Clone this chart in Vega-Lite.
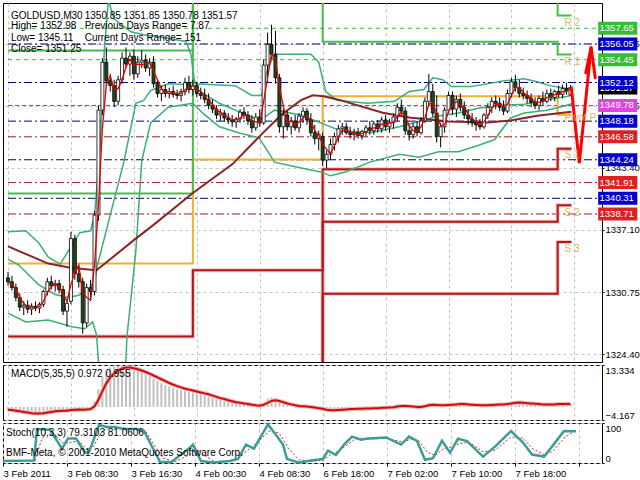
{
"$schema": "https://vega.github.io/schema/vega-lite/v6.json",
"background": "white",
"padding": {"left": -3, "top": 2, "right": 0, "bottom": 0},
"spacing": 3,
"bounds": "flush",
"config": {"view": {"stroke": "black", "strokeWidth": 1}, "font": "Liberation Sans", "text": {"font": "Liberation Sans"}},
"datasets": {
"bars": [
{"i":0,"o":1332.2,"h":1332.8,"l":1331.4,"c":1331.8,"m":1331.8,"mh":-1.2,"ms":-0.9},
{"i":1,"o":1331.8,"h":1332.4,"l":1330.9,"c":1331.2,"m":1331.5,"mh":-1.3,"ms":-1.0},
{"i":2,"o":1331.2,"h":1331.6,"l":1329.8,"c":1330.2,"m":1331.1,"mh":-1.5,"ms":-1.2},
{"i":3,"o":1330.2,"h":1330.6,"l":1328.8,"c":1329.2,"m":1330.2,"mh":-1.7,"ms":-1.4},
{"i":4,"o":1329.2,"h":1329.8,"l":1328.4,"c":1329.4,"m":1329.6,"mh":-1.8,"ms":-1.6},
{"i":5,"o":1329.4,"h":1329.9,"l":1328.6,"c":1329.0,"m":1329.2,"mh":-1.9,"ms":-1.8},
{"i":6,"o":1329.0,"h":1329.6,"l":1328.4,"c":1329.3,"m":1329.2,"mh":-1.9,"ms":-2.0},
{"i":7,"o":1329.3,"h":1329.8,"l":1328.8,"c":1329.1,"m":1329.1,"mh":-1.8,"ms":-2.1},
{"i":8,"o":1329.1,"h":1329.7,"l":1328.6,"c":1329.5,"m":1329.3,"mh":-1.7,"ms":-2.1},
{"i":9,"o":1329.5,"h":1331.0,"l":1329.2,"c":1330.8,"m":1329.8,"mh":-1.4,"ms":-2.0},
{"i":10,"o":1330.8,"h":1332.2,"l":1330.4,"c":1331.8,"m":1330.7,"mh":-1.1,"ms":-1.8},
{"i":11,"o":1331.8,"h":1332.4,"l":1331.0,"c":1331.4,"m":1331.3,"mh":-1.0,"ms":-1.6},
{"i":12,"o":1331.4,"h":1332.0,"l":1330.8,"c":1331.6,"m":1331.6,"mh":-0.9,"ms":-1.4},
{"i":13,"o":1331.6,"h":1332.0,"l":1330.6,"c":1331.0,"m":1331.3,"mh":-0.9,"ms":-1.3},
{"i":14,"o":1331.0,"h":1331.4,"l":1328.4,"c":1328.8,"m":1330.5,"mh":-1.1,"ms":-1.2},
{"i":15,"o":1328.8,"h":1330.0,"l":1327.2,"c":1329.6,"m":1329.8,"mh":-1.2,"ms":-1.2},
{"i":16,"o":1329.8,"h":1336.9,"l":1329.5,"c":1336.2,"m":1331.5,"mh":-0.6,"ms":-1.0},
{"i":17,"o":1336.2,"h":1336.6,"l":1332.0,"c":1332.6,"m":1332.8,"mh":-0.6,"ms":-0.9},
{"i":18,"o":1332.6,"h":1333.4,"l":1331.2,"c":1331.8,"m":1333.5,"mh":-0.7,"ms":-0.8},
{"i":19,"o":1331.8,"h":1332.2,"l":1326.5,"c":1327.6,"m":1330.7,"mh":-1.1,"ms":-0.9},
{"i":20,"o":1327.6,"h":1331.6,"l":1327.2,"c":1331.2,"m":1330.2,"mh":-0.6,"ms":-0.8},
{"i":21,"o":1331.2,"h":1332.0,"l":1330.0,"c":1330.8,"m":1329.9,"mh":-0.6,"ms":-0.7},
{"i":22,"o":1330.8,"h":1339.0,"l":1330.4,"c":1338.6,"m":1333.5,"mh":1.8,"ms":0.2},
{"i":23,"o":1338.6,"h":1349.8,"l":1338.0,"c":1349.3,"m":1339.6,"mh":5.6,"ms":2.3},
{"i":24,"o":1349.3,"h":1354.6,"l":1348.8,"c":1354.2,"m":1347.4,"mh":9.5,"ms":5.0},
{"i":25,"o":1354.2,"h":1355.7,"l":1351.8,"c":1352.3,"m":1351.9,"mh":11.5,"ms":7.5},
{"i":26,"o":1352.3,"h":1353.0,"l":1351.2,"c":1351.8,"m":1352.8,"mh":12.6,"ms":9.4},
{"i":27,"o":1351.8,"h":1352.4,"l":1349.6,"c":1350.2,"m":1351.4,"mh":12.8,"ms":10.7},
{"i":28,"o":1350.2,"h":1352.8,"l":1349.8,"c":1352.4,"m":1351.5,"mh":13.1,"ms":11.6},
{"i":29,"o":1352.4,"h":1355.2,"l":1352.0,"c":1354.6,"m":1352.4,"mh":13.3,"ms":12.2},
{"i":30,"o":1354.6,"h":1355.7,"l":1353.6,"c":1354.0,"m":1353.7,"mh":13.2,"ms":12.5},
{"i":31,"o":1354.0,"h":1355.2,"l":1352.8,"c":1354.8,"m":1354.5,"mh":12.8,"ms":12.5},
{"i":32,"o":1354.8,"h":1355.5,"l":1352.4,"c":1353.0,"m":1353.9,"mh":12.2,"ms":12.3},
{"i":33,"o":1353.0,"h":1354.8,"l":1352.6,"c":1354.2,"m":1354.0,"mh":11.6,"ms":12.0},
{"i":34,"o":1354.2,"h":1355.4,"l":1353.6,"c":1354.4,"m":1353.9,"mh":11.0,"ms":11.6},
{"i":35,"o":1354.4,"h":1355.0,"l":1353.2,"c":1353.6,"m":1354.1,"mh":10.3,"ms":11.1},
{"i":36,"o":1353.6,"h":1354.6,"l":1352.8,"c":1354.2,"m":1354.1,"mh":9.7,"ms":10.6},
{"i":37,"o":1354.2,"h":1354.8,"l":1351.6,"c":1352.0,"m":1353.3,"mh":8.9,"ms":10.0},
{"i":38,"o":1352.0,"h":1352.4,"l":1350.6,"c":1351.0,"m":1352.4,"mh":8.2,"ms":9.4},
{"i":39,"o":1351.0,"h":1351.8,"l":1350.2,"c":1351.4,"m":1351.5,"mh":7.6,"ms":8.8},
{"i":40,"o":1351.4,"h":1351.9,"l":1350.6,"c":1351.0,"m":1351.1,"mh":7.0,"ms":8.2},
{"i":41,"o":1351.0,"h":1351.6,"l":1350.5,"c":1351.2,"m":1351.2,"mh":6.5,"ms":7.6},
{"i":42,"o":1351.2,"h":1351.8,"l":1350.6,"c":1350.9,"m":1351.0,"mh":6.0,"ms":7.1},
{"i":43,"o":1350.9,"h":1351.4,"l":1350.4,"c":1350.8,"m":1351.0,"mh":5.6,"ms":6.6},
{"i":44,"o":1350.8,"h":1351.5,"l":1350.2,"c":1351.2,"m":1351.0,"mh":5.3,"ms":6.2},
{"i":45,"o":1351.2,"h":1352.6,"l":1350.8,"c":1352.1,"m":1351.4,"mh":5.1,"ms":5.8},
{"i":46,"o":1352.1,"h":1352.8,"l":1351.0,"c":1351.4,"m":1351.6,"mh":4.8,"ms":5.5},
{"i":47,"o":1351.4,"h":1352.4,"l":1350.8,"c":1351.8,"m":1351.8,"mh":4.6,"ms":5.2},
{"i":48,"o":1351.8,"h":1352.2,"l":1350.6,"c":1351.0,"m":1351.4,"mh":4.3,"ms":4.9},
{"i":49,"o":1351.0,"h":1351.6,"l":1350.4,"c":1350.8,"m":1351.2,"mh":4.0,"ms":4.6},
{"i":50,"o":1350.8,"h":1351.5,"l":1350.0,"c":1350.4,"m":1350.7,"mh":3.7,"ms":4.3},
{"i":51,"o":1350.4,"h":1351.0,"l":1349.4,"c":1349.8,"m":1350.3,"mh":3.3,"ms":4.0},
{"i":52,"o":1349.8,"h":1350.4,"l":1349.0,"c":1349.4,"m":1349.9,"mh":2.9,"ms":3.6},
{"i":53,"o":1349.4,"h":1349.8,"l":1348.4,"c":1348.8,"m":1349.3,"mh":2.5,"ms":3.2},
{"i":54,"o":1348.8,"h":1349.4,"l":1348.2,"c":1349.0,"m":1349.1,"mh":2.2,"ms":2.8},
{"i":55,"o":1349.0,"h":1349.3,"l":1348.1,"c":1348.5,"m":1348.8,"mh":1.9,"ms":2.5},
{"i":56,"o":1348.5,"h":1349.0,"l":1347.9,"c":1348.3,"m":1348.6,"mh":1.6,"ms":2.1},
{"i":57,"o":1348.3,"h":1348.8,"l":1347.6,"c":1348.1,"m":1348.3,"mh":1.3,"ms":1.8},
{"i":58,"o":1348.1,"h":1348.6,"l":1347.5,"c":1348.4,"m":1348.3,"mh":1.1,"ms":1.5},
{"i":59,"o":1348.4,"h":1349.4,"l":1348.0,"c":1349.1,"m":1348.5,"mh":1.0,"ms":1.3},
{"i":60,"o":1349.1,"h":1349.6,"l":1348.4,"c":1348.8,"m":1348.8,"mh":0.9,"ms":1.1},
{"i":61,"o":1348.8,"h":1349.2,"l":1347.8,"c":1348.2,"m":1348.7,"mh":0.7,"ms":0.9},
{"i":62,"o":1348.2,"h":1348.8,"l":1347.0,"c":1347.5,"m":1348.2,"mh":0.4,"ms":0.7},
{"i":63,"o":1347.5,"h":1349.0,"l":1347.2,"c":1348.6,"m":1348.1,"mh":0.3,"ms":0.5},
{"i":64,"o":1348.6,"h":1349.4,"l":1347.6,"c":1348.0,"m":1348.0,"mh":0.2,"ms":0.4},
{"i":65,"o":1348.0,"h":1354.5,"l":1347.8,"c":1353.9,"m":1350.2,"mh":1.2,"ms":0.7},
{"i":66,"o":1353.9,"h":1357.2,"l":1352.2,"c":1356.0,"m":1352.6,"mh":2.6,"ms":1.3},
{"i":67,"o":1356.0,"h":1358.0,"l":1354.5,"c":1355.0,"m":1355.0,"mh":3.0,"ms":1.9},
{"i":68,"o":1355.0,"h":1357.4,"l":1352.0,"c":1352.6,"m":1354.5,"mh":2.6,"ms":2.1},
{"i":69,"o":1352.6,"h":1353.0,"l":1347.0,"c":1347.6,"m":1351.7,"mh":1.4,"ms":1.9},
{"i":70,"o":1347.6,"h":1349.4,"l":1346.4,"c":1348.8,"m":1349.7,"mh":0.8,"ms":1.5},
{"i":71,"o":1348.8,"h":1349.2,"l":1347.2,"c":1347.6,"m":1348.0,"mh":0.4,"ms":1.1},
{"i":72,"o":1347.6,"h":1348.6,"l":1346.8,"c":1348.2,"m":1348.2,"mh":0.2,"ms":0.8},
{"i":73,"o":1348.2,"h":1348.8,"l":1347.2,"c":1347.5,"m":1347.8,"mh":-0.1,"ms":0.5},
{"i":74,"o":1347.5,"h":1349.0,"l":1347.0,"c":1348.7,"m":1348.1,"mh":0.1,"ms":0.3},
{"i":75,"o":1348.7,"h":1349.6,"l":1348.0,"c":1349.2,"m":1348.5,"mh":0.2,"ms":0.2},
{"i":76,"o":1349.2,"h":1349.5,"l":1347.8,"c":1348.3,"m":1348.7,"mh":0.0,"ms":0.1},
{"i":77,"o":1348.3,"h":1349.0,"l":1346.6,"c":1347.0,"m":1348.2,"mh":-0.3,"ms":0.0},
{"i":78,"o":1347.0,"h":1347.8,"l":1345.8,"c":1346.4,"m":1347.2,"mh":-0.6,"ms":-0.2},
{"i":79,"o":1346.4,"h":1347.2,"l":1345.2,"c":1346.8,"m":1346.7,"mh":-0.6,"ms":-0.4},
{"i":80,"o":1346.6,"h":1347.0,"l":1343.6,"c":1344.2,"m":1345.8,"mh":-1.1,"ms":-0.6},
{"i":81,"o":1344.2,"h":1345.2,"l":1343.4,"c":1344.8,"m":1345.3,"mh":-1.4,"ms":-0.9},
{"i":82,"o":1344.8,"h":1346.4,"l":1344.2,"c":1345.8,"m":1344.9,"mh":-1.3,"ms":-1.1},
{"i":83,"o":1345.8,"h":1347.0,"l":1345.2,"c":1346.6,"m":1345.7,"mh":-1.0,"ms":-1.1},
{"i":84,"o":1346.6,"h":1347.8,"l":1346.0,"c":1347.4,"m":1346.6,"mh":-0.7,"ms":-1.0},
{"i":85,"o":1347.4,"h":1348.0,"l":1346.8,"c":1347.6,"m":1347.2,"mh":-0.5,"ms":-0.9},
{"i":86,"o":1347.6,"h":1348.0,"l":1346.8,"c":1347.0,"m":1347.3,"mh":-0.5,"ms":-0.8},
{"i":87,"o":1347.0,"h":1347.6,"l":1346.4,"c":1346.8,"m":1347.1,"mh":-0.6,"ms":-0.7},
{"i":88,"o":1346.8,"h":1347.4,"l":1346.2,"c":1347.0,"m":1346.9,"mh":-0.6,"ms":-0.7},
{"i":89,"o":1347.0,"h":1347.5,"l":1346.4,"c":1346.7,"m":1346.8,"mh":-0.6,"ms":-0.6},
{"i":90,"o":1346.7,"h":1347.3,"l":1346.3,"c":1347.1,"m":1346.9,"mh":-0.5,"ms":-0.6},
{"i":91,"o":1347.1,"h":1347.8,"l":1346.6,"c":1347.5,"m":1347.1,"mh":-0.4,"ms":-0.5},
{"i":92,"o":1347.5,"h":1348.2,"l":1346.8,"c":1347.2,"m":1347.3,"mh":-0.4,"ms":-0.5},
{"i":93,"o":1347.2,"h":1348.2,"l":1346.8,"c":1347.9,"m":1347.5,"mh":-0.3,"ms":-0.4},
{"i":94,"o":1347.9,"h":1348.3,"l":1347.0,"c":1347.4,"m":1347.5,"mh":-0.3,"ms":-0.4},
{"i":95,"o":1347.4,"h":1348.6,"l":1347.0,"c":1348.3,"m":1347.9,"mh":-0.2,"ms":-0.3},
{"i":96,"o":1348.3,"h":1348.8,"l":1347.2,"c":1347.6,"m":1347.8,"mh":-0.2,"ms":-0.3},
{"i":97,"o":1347.6,"h":1348.4,"l":1347.0,"c":1348.0,"m":1348.0,"mh":-0.1,"ms":-0.2},
{"i":98,"o":1348.0,"h":1349.0,"l":1347.4,"c":1348.6,"m":1348.1,"mh":0.1,"ms":-0.1},
{"i":99,"o":1348.6,"h":1350.0,"l":1348.2,"c":1349.6,"m":1348.7,"mh":0.5,"ms":0.1},
{"i":100,"o":1349.6,"h":1350.4,"l":1348.8,"c":1349.2,"m":1349.1,"mh":0.6,"ms":0.3},
{"i":101,"o":1349.2,"h":1349.6,"l":1346.8,"c":1347.2,"m":1348.7,"mh":0.2,"ms":0.3},
{"i":102,"o":1347.2,"h":1347.8,"l":1346.2,"c":1346.8,"m":1347.7,"mh":-0.1,"ms":0.2},
{"i":103,"o":1346.8,"h":1348.0,"l":1346.4,"c":1347.6,"m":1347.2,"mh":-0.1,"ms":0.1},
{"i":104,"o":1347.6,"h":1348.2,"l":1346.6,"c":1347.0,"m":1347.1,"mh":-0.2,"ms":0.0},
{"i":105,"o":1347.0,"h":1348.6,"l":1346.8,"c":1348.2,"m":1347.6,"mh":0.1,"ms":0.0},
{"i":106,"o":1348.2,"h":1350.6,"l":1348.0,"c":1350.2,"m":1348.5,"mh":0.6,"ms":0.2},
{"i":107,"o":1350.2,"h":1353.0,"l":1349.8,"c":1351.2,"m":1349.9,"mh":1.2,"ms":0.5},
{"i":108,"o":1351.2,"h":1352.0,"l":1348.6,"c":1349.0,"m":1350.1,"mh":1.0,"ms":0.7},
{"i":109,"o":1349.0,"h":1350.8,"l":1346.0,"c":1346.6,"m":1348.9,"mh":0.3,"ms":0.6},
{"i":110,"o":1346.6,"h":1348.0,"l":1345.5,"c":1347.6,"m":1347.7,"mh":0.2,"ms":0.5},
{"i":111,"o":1347.6,"h":1349.6,"l":1347.0,"c":1349.3,"m":1347.8,"mh":0.5,"ms":0.5},
{"i":112,"o":1349.3,"h":1351.2,"l":1349.0,"c":1350.8,"m":1349.2,"mh":0.9,"ms":0.6},
{"i":113,"o":1350.8,"h":1351.2,"l":1348.8,"c":1349.4,"m":1349.8,"mh":0.9,"ms":0.7},
{"i":114,"o":1349.4,"h":1350.8,"l":1348.6,"c":1350.4,"m":1350.2,"mh":1.0,"ms":0.8},
{"i":115,"o":1350.4,"h":1351.0,"l":1349.2,"c":1349.6,"m":1349.8,"mh":1.0,"ms":0.9},
{"i":116,"o":1349.6,"h":1350.2,"l":1348.4,"c":1348.8,"m":1349.6,"mh":0.8,"ms":0.9},
{"i":117,"o":1348.8,"h":1349.4,"l":1347.8,"c":1348.4,"m":1348.9,"mh":0.6,"ms":0.8},
{"i":118,"o":1348.4,"h":1349.0,"l":1347.6,"c":1348.0,"m":1348.4,"mh":0.4,"ms":0.7},
{"i":119,"o":1348.0,"h":1348.6,"l":1347.2,"c":1347.8,"m":1348.1,"mh":0.3,"ms":0.6},
{"i":120,"o":1347.8,"h":1348.4,"l":1347.3,"c":1347.6,"m":1347.8,"mh":0.2,"ms":0.5},
{"i":121,"o":1347.6,"h":1349.0,"l":1347.4,"c":1348.8,"m":1348.1,"mh":0.4,"ms":0.5},
{"i":122,"o":1348.8,"h":1350.0,"l":1348.4,"c":1349.6,"m":1348.7,"mh":0.7,"ms":0.5},
{"i":123,"o":1349.6,"h":1350.6,"l":1349.0,"c":1350.2,"m":1349.5,"mh":0.9,"ms":0.6},
{"i":124,"o":1350.2,"h":1350.8,"l":1349.4,"c":1350.0,"m":1349.9,"mh":1.0,"ms":0.7},
{"i":125,"o":1350.0,"h":1350.6,"l":1349.2,"c":1349.6,"m":1349.9,"mh":0.9,"ms":0.8},
{"i":126,"o":1349.6,"h":1350.3,"l":1348.8,"c":1349.2,"m":1349.6,"mh":0.8,"ms":0.8},
{"i":127,"o":1349.2,"h":1351.4,"l":1349.0,"c":1351.0,"m":1349.9,"mh":1.2,"ms":0.9},
{"i":128,"o":1351.0,"h":1352.6,"l":1350.6,"c":1352.2,"m":1350.8,"mh":1.6,"ms":1.1},
{"i":129,"o":1352.2,"h":1352.9,"l":1351.2,"c":1351.6,"m":1351.6,"mh":1.6,"ms":1.3},
{"i":130,"o":1351.6,"h":1352.4,"l":1350.6,"c":1351.0,"m":1351.6,"mh":1.4,"ms":1.4},
{"i":131,"o":1351.0,"h":1351.6,"l":1350.4,"c":1350.8,"m":1351.1,"mh":1.2,"ms":1.3},
{"i":132,"o":1350.8,"h":1351.3,"l":1350.0,"c":1350.5,"m":1350.8,"mh":1.0,"ms":1.2},
{"i":133,"o":1350.5,"h":1351.0,"l":1349.6,"c":1350.1,"m":1350.5,"mh":0.8,"ms":1.1},
{"i":134,"o":1350.1,"h":1350.6,"l":1349.4,"c":1349.8,"m":1350.1,"mh":0.6,"ms":1.0},
{"i":135,"o":1349.8,"h":1350.8,"l":1349.3,"c":1350.5,"m":1350.1,"mh":0.7,"ms":0.9},
{"i":136,"o":1350.5,"h":1351.2,"l":1349.8,"c":1350.2,"m":1350.2,"mh":0.7,"ms":0.8},
{"i":137,"o":1350.2,"h":1351.4,"l":1350.0,"c":1351.0,"m":1350.6,"mh":0.9,"ms":0.8},
{"i":138,"o":1351.0,"h":1351.5,"l":1350.2,"c":1350.6,"m":1350.6,"mh":0.8,"ms":0.8},
{"i":139,"o":1350.6,"h":1351.4,"l":1350.2,"c":1351.2,"m":1350.9,"mh":0.9,"ms":0.8},
{"i":140,"o":1351.2,"h":1351.8,"l":1350.6,"c":1350.9,"m":1350.9,"mh":0.9,"ms":0.9},
{"i":141,"o":1350.9,"h":1351.9,"l":1350.5,"c":1351.5,"m":1351.2,"mh":1.0,"ms":0.9},
{"i":142,"o":1351.5,"h":1352.1,"l":1350.9,"c":1351.3,"m":1351.2,"mh":1.0,"ms":0.95},
{"i":143,"o":1350.85,"h":1351.85,"l":1350.78,"c":1351.57,"m":1351.5,"mh":0.972,"ms":0.955}
],
"levels": [
{"p":1357.65,"k":"g"},{"p":1354.45,"k":"g"},
{"p":1356.05,"k":"b"},{"p":1352.12,"k":"b"},{"p":1348.18,"k":"b"},{"p":1344.24,"k":"b"},{"p":1340.31,"k":"b"},
{"p":1346.58,"k":"r"},{"p":1341.91,"k":"r"},{"p":1338.71,"k":"r"},
{"p":1349.78,"k":"m"}
],
"tags": [
{"p":1351.57,"t":"1351.57","k":"k"},
{"p":1357.65,"t":"1357.65","k":"g"},
{"p":1356.05,"t":"1356.05","k":"b"},
{"p":1354.45,"t":"1354.45","k":"g"},
{"p":1352.12,"t":"1352.12","k":"b"},
{"p":1349.78,"t":"1349.78","k":"m"},
{"p":1348.18,"t":"1348.18","k":"b"},
{"p":1346.58,"t":"1346.58","k":"r"},
{"p":1344.24,"t":"1344.24","k":"b"},
{"p":1341.91,"t":"1341.91","k":"r"},
{"p":1340.31,"t":"1340.31","k":"b"},
{"p":1338.71,"t":"1338.71","k":"r"}
],
"piv": [
{"g":"R","s":"R1","o":0,"i":0,"v":1355.38},{"g":"R","s":"R1","o":1,"i":47,"v":1355.38},{"g":"R","s":"R1","o":2,"i":47,"v":1362},{"g":"R","s":"R1","o":3,"i":80,"v":1362},{"g":"R","s":"R1","o":4,"i":80,"v":1356.27},{"g":"R","s":"R1","o":5,"i":139.75,"v":1356.27},{"g":"R","s":"R1","o":6,"i":139.75,"v":1354.98},{"g":"R","s":"R1","o":7,"i":143.25,"v":1354.98},
{"g":"R","s":"R2","o":0,"i":0,"v":1340.8},{"g":"R","s":"R2","o":1,"i":47,"v":1340.8},{"g":"R","s":"R2","o":2,"i":47,"v":1366},{"g":"R","s":"R2","o":3,"i":139.75,"v":1366},{"g":"R","s":"R2","o":4,"i":139.75,"v":1358.95},{"g":"R","s":"R2","o":5,"i":143.25,"v":1358.95},
{"g":"P","s":"P","o":0,"i":0,"v":1333.65},{"g":"P","s":"P","o":1,"i":47,"v":1333.65},{"g":"P","s":"P","o":2,"i":47,"v":1344.27},{"g":"P","s":"P","o":3,"i":80,"v":1344.27},{"g":"P","s":"P","o":4,"i":80,"v":1350.72},{"g":"P","s":"P","o":5,"i":139.75,"v":1350.72},{"g":"P","s":"P","o":6,"i":139.75,"v":1348.83},{"g":"P","s":"P","o":7,"i":143.25,"v":1348.83},
{"g":"S","s":"S1","o":0,"i":0,"v":1326.2},{"g":"S","s":"S1","o":1,"i":47,"v":1326.2},{"g":"S","s":"S1","o":2,"i":47,"v":1332.96},{"g":"S","s":"S1","o":3,"i":80,"v":1332.96},{"g":"S","s":"S1","o":4,"i":80,"v":1343.28},{"g":"S","s":"S1","o":5,"i":139.75,"v":1343.28},{"g":"S","s":"S1","o":6,"i":139.75,"v":1345.36},{"g":"S","s":"S1","o":7,"i":143.25,"v":1345.36},
{"g":"S","s":"S2","o":0,"i":0,"v":1318},{"g":"S","s":"S2","o":1,"i":80,"v":1318},{"g":"S","s":"S2","o":2,"i":80,"v":1337.92},{"g":"S","s":"S2","o":3,"i":139.75,"v":1337.92},{"g":"S","s":"S2","o":4,"i":139.75,"v":1339.6},{"g":"S","s":"S2","o":5,"i":143.25,"v":1339.6},
{"g":"S","s":"S3","o":0,"i":0,"v":1315},{"g":"S","s":"S3","o":1,"i":80,"v":1315},{"g":"S","s":"S3","o":2,"i":80,"v":1330.58},{"g":"S","s":"S3","o":3,"i":139.75,"v":1330.58},{"g":"S","s":"S3","o":4,"i":139.75,"v":1335.84},{"g":"S","s":"S3","o":5,"i":143.25,"v":1335.84}
],
"bands": [
{"s":"u","i":0,"v":1336.9},{"s":"u","i":4.5,"v":1337.0},{"s":"u","i":7.75,"v":1335.8},{"s":"u","i":10.25,"v":1334.3},{"s":"u","i":13.25,"v":1333.6},{"s":"u","i":16.25,"v":1335.5},{"s":"u","i":18.25,"v":1336.8},{"s":"u","i":21,"v":1337.0},{"s":"u","i":22,"v":1338.5},{"s":"u","i":23.5,"v":1346},{"s":"u","i":24.5,"v":1355.5},{"s":"u","i":25.5,"v":1360.5},{"s":"u","i":27,"v":1358.6},{"s":"u","i":31.25,"v":1357.3},{"s":"u","i":34.5,"v":1357.0},{"s":"u","i":39.5,"v":1356.7},{"s":"u","i":45.25,"v":1356.3},{"s":"u","i":46.5,"v":1355.0},{"s":"u","i":47.5,"v":1352.0},{"s":"u","i":57.75,"v":1351.8},{"s":"u","i":62,"v":1350.8},{"s":"u","i":64.5,"v":1350.8},{"s":"u","i":66,"v":1353.5},{"s":"u","i":67.75,"v":1355.0},{"s":"u","i":77,"v":1355.0},{"s":"u","i":79,"v":1354.2},{"s":"u","i":80.75,"v":1351.2},{"s":"u","i":83.75,"v":1350.3},{"s":"u","i":91.25,"v":1350.0},{"s":"u","i":98.25,"v":1350.2},{"s":"u","i":102,"v":1351.2},{"s":"u","i":105.75,"v":1351.4},{"s":"u","i":108,"v":1352.6},{"s":"u","i":110.5,"v":1352.4},{"s":"u","i":112.75,"v":1351.7},{"s":"u","i":117.75,"v":1351.7},{"s":"u","i":126.25,"v":1352.3},{"s":"u","i":131.25,"v":1352.5},{"s":"u","i":134.5,"v":1352.2},{"s":"u","i":137.75,"v":1351.8},{"s":"u","i":142,"v":1351.5},{"s":"u","i":143.75,"v":1351.7},
{"s":"m","i":0,"v":1334.1},{"s":"m","i":2.75,"v":1333.5},{"s":"m","i":7.75,"v":1331.5},{"s":"m","i":12,"v":1330.5},{"s":"m","i":15.25,"v":1330.2},{"s":"m","i":17.75,"v":1330.4},{"s":"m","i":20.25,"v":1330.9},{"s":"m","i":22,"v":1331.8},{"s":"m","i":22.75,"v":1333.5},{"s":"m","i":29.5,"v":1344.1},{"s":"m","i":32.5,"v":1350.0},{"s":"m","i":34.5,"v":1350.3},{"s":"m","i":36.25,"v":1351.3},{"s":"m","i":40.75,"v":1352.0},{"s":"m","i":45.75,"v":1351.9},{"s":"m","i":47.75,"v":1351.5},{"s":"m","i":53.75,"v":1350.0},{"s":"m","i":59.5,"v":1349.0},{"s":"m","i":63.75,"v":1348.3},{"s":"m","i":65.25,"v":1348.6},{"s":"m","i":67.75,"v":1349.3},{"s":"m","i":74.5,"v":1348.8},{"s":"m","i":79.5,"v":1348.0},{"s":"m","i":84.5,"v":1347.2},{"s":"m","i":92,"v":1347.0},{"s":"m","i":99.5,"v":1347.6},{"s":"m","i":109.5,"v":1348.7},{"s":"m","i":114.5,"v":1349.0},{"s":"m","i":119.5,"v":1349.5},{"s":"m","i":125.25,"v":1349.8},{"s":"m","i":131.25,"v":1349.9},{"s":"m","i":136.25,"v":1350.3},{"s":"m","i":142,"v":1350.7},{"s":"m","i":143.25,"v":1350.8},
{"s":"l","i":0,"v":1328.6},{"s":"l","i":4.5,"v":1327.7},{"s":"l","i":10.25,"v":1327.9},{"s":"l","i":16.25,"v":1327.2},{"s":"l","i":19.5,"v":1327.0},{"s":"l","i":21.5,"v":1327.7},{"s":"l","i":22.5,"v":1326.4},{"s":"l","i":23.5,"v":1321},{"s":"l","i":25,"v":1315},{"s":"l","i":29,"v":1315},{"s":"l","i":30.25,"v":1326.2},{"s":"l","i":32.5,"v":1334.9},{"s":"l","i":34,"v":1344.1},{"s":"l","i":36.25,"v":1348.0},{"s":"l","i":40.75,"v":1349.6},{"s":"l","i":47,"v":1350.0},{"s":"l","i":49.5,"v":1349.0},{"s":"l","i":53.75,"v":1347.6},{"s":"l","i":59.5,"v":1346.9},{"s":"l","i":63.75,"v":1346.5},{"s":"l","i":65.25,"v":1345.6},{"s":"l","i":67.75,"v":1344.0},{"s":"l","i":74.5,"v":1343.4},{"s":"l","i":79.5,"v":1343.0},{"s":"l","i":82,"v":1342.6},{"s":"l","i":85.75,"v":1343.0},{"s":"l","i":92,"v":1344.0},{"s":"l","i":99.5,"v":1344.8},{"s":"l","i":104.5,"v":1344.5},{"s":"l","i":109.5,"v":1345.06},{"s":"l","i":114.5,"v":1345.06},{"s":"l","i":119.5,"v":1345.7},{"s":"l","i":123.75,"v":1346.3},{"s":"l","i":127.75,"v":1348.5},{"s":"l","i":131.25,"v":1349.0},{"s":"l","i":137,"v":1349.3},{"s":"l","i":141.25,"v":1349.7},{"s":"l","i":143.75,"v":1350.0}
],
"slow": [
{"i":0,"v":1335.4},{"i":10.25,"v":1333.65},{"i":16.25,"v":1333.2},{"i":22.5,"v":1332.96},{"i":32,"v":1336.04},{"i":37,"v":1337.6},{"i":47,"v":1340.85},{"i":57,"v":1343.77},{"i":64.5,"v":1346.85},{"i":69.5,"v":1348.83},{"i":74.5,"v":1350.32},{"i":77.5,"v":1350.82},{"i":80.25,"v":1350.72},{"i":84.5,"v":1350.32},{"i":87,"v":1350.02},{"i":95.25,"v":1349.03},{"i":102,"v":1348.54},{"i":112,"v":1348.14},{"i":122,"v":1348.04},{"i":127.75,"v":1348.24},{"i":134.5,"v":1348.73},{"i":143.25,"v":1349.13}
],
"zz": [
{"seg":"a","o":0,"i":143.25,"v":1351.5},{"seg":"a","o":1,"i":145.25,"v":1343.9},{"seg":"a","o":2,"i":148.25,"v":1355.7},
{"seg":"b","o":0,"i":146.9,"v":1353.1},{"seg":"b","o":1,"i":148.25,"v":1355.7},{"seg":"b","o":2,"i":149.3,"v":1352.6}
],
"hdr": [
{"t":"GOLDUSD,M30","i":0.75,"v":1358.93},
{"t":"1350.85 1351.85 1350.78 1351.57","i":19.5,"v":1358.93},
{"t":"High= 1352.98","i":0.75,"v":1357.84},
{"t":"Previous Days Range= 7.87","i":19.5,"v":1357.84},
{"t":"Low= 1345.11","i":0.75,"v":1356.64},
{"t":"Current Days Range= 151","i":19.5,"v":1356.64},
{"t":"Close= 1351.25","i":0.75,"v":1355.55}
],
"plab": [
{"t":"R 2","v":1358.23},{"t":"R 1","v":1354.26},{"t":"Pivot P","v":1348.51},{"t":"S 1","v":1344.74},{"t":"S 2","v":1338.79},{"t":"S 3","v":1335.1}
],
"stm": [
{"i":0,"v":5},{"i":7.75,"v":6},{"i":8.5,"v":85},{"i":11.75,"v":83},{"i":14.75,"v":36},{"i":16.25,"v":61},{"i":18.25,"v":61},{"i":20.5,"v":26},{"i":21.5,"v":27},{"i":24,"v":95},{"i":26,"v":90},{"i":28,"v":90},{"i":30,"v":85},{"i":33.25,"v":85},{"i":35.25,"v":80},{"i":39.25,"v":3},{"i":42,"v":2},{"i":46.5,"v":36},{"i":47.5,"v":46},{"i":49.5,"v":5},{"i":52.5,"v":1},{"i":56.75,"v":5},{"i":58.75,"v":10},{"i":60.75,"v":46},{"i":62.75,"v":36},{"i":66.25,"v":97},{"i":70,"v":46},{"i":71,"v":10},{"i":74,"v":1},{"i":77,"v":6},{"i":80,"v":10},{"i":81.25,"v":31},{"i":83.25,"v":20},{"i":85.25,"v":46},{"i":87.25,"v":66},{"i":89.5,"v":58},{"i":91.25,"v":61},{"i":95.75,"v":64},{"i":99.5,"v":46},{"i":101.5,"v":66},{"i":103.5,"v":55},{"i":105.5,"v":8},{"i":107.5,"v":12},{"i":109.75,"v":56},{"i":111.75,"v":26},{"i":113.75,"v":61},{"i":116,"v":55},{"i":120,"v":16},{"i":123,"v":41},{"i":127,"v":80},{"i":130,"v":51},{"i":132.25,"v":21},{"i":135.25,"v":16},{"i":137.25,"v":41},{"i":140.25,"v":80},{"i":143.25,"v":79.31}
],
"sts": [
{"i":0,"v":6},{"i":8,"v":6},{"i":9.5,"v":55},{"i":11,"v":82},{"i":13,"v":70},{"i":15,"v":50},{"i":17,"v":52},{"i":19,"v":55},{"i":21,"v":33},{"i":22.5,"v":40},{"i":24.5,"v":75},{"i":26.5,"v":90},{"i":29,"v":88},{"i":33,"v":85},{"i":35.5,"v":82},{"i":37.5,"v":50},{"i":40,"v":12},{"i":43,"v":3},{"i":46.5,"v":20},{"i":48.5,"v":35},{"i":50.5,"v":18},{"i":53,"v":3},{"i":57,"v":5},{"i":59.5,"v":18},{"i":61.5,"v":35},{"i":63.5,"v":50},{"i":66.5,"v":80},{"i":69,"v":75},{"i":71.5,"v":35},{"i":74,"v":8},{"i":77,"v":4},{"i":80,"v":7},{"i":82,"v":22},{"i":84,"v":30},{"i":86,"v":45},{"i":88,"v":60},{"i":90,"v":62},{"i":92,"v":60},{"i":96,"v":62},{"i":100,"v":52},{"i":102,"v":60},{"i":104,"v":55},{"i":106,"v":28},{"i":108,"v":18},{"i":110,"v":35},{"i":112,"v":40},{"i":114,"v":48},{"i":116.5,"v":52},{"i":120,"v":28},{"i":123,"v":32},{"i":127,"v":65},{"i":130,"v":62},{"i":132.5,"v":35},{"i":135.5,"v":20},{"i":137.5,"v":30},{"i":140.5,"v":65},{"i":143.25,"v":81.06}
]
},
"vconcat": [
{
"width": 599, "height": 359,
"resolve": {"scale": {"color": "independent", "strokeDash": "independent"}},
"layer": [
{"data": {"name": "levels"}, "mark": {"type": "rule", "strokeWidth": 1},
 "encoding": {
  "x": {"datum": 0, "type": "quantitative", "scale": {"domain": [0, 149.75], "nice": false, "zero": false},
        "axis": {"orient": "bottom", "values": [0,8,16,24,32,40,48,56,64,72,80,88,96,104,112,120,128,136,144], "title": null, "grid": true, "gridColor": "#c4c4c4", "gridDash": [3,3], "labels": false, "ticks": false, "domain": false}},
  "x2": {"datum": 149.75},
  "y": {"field": "p", "type": "quantitative", "scale": {"domain": [1324.12, 1359.72], "nice": false, "zero": false},
        "axis": {"orient": "right", "values": [1359.25,1356.05,1352.9,1349.75,1346.55,1343.4,1340.25,1337.1,1333.9,1330.75,1327.6,1324.4], "format": ".2f", "title": null, "grid": true, "gridColor": "#c4c4c4", "gridDash": [3,3], "tickSize": 2, "tickColor": "black", "labelFontSize": 9.5, "labelFont": "Liberation Sans", "labelColor": "black", "labelPadding": 1, "labelOverlap": false, "domain": false}},
  "color": {"field": "k", "type": "nominal", "scale": {"domain": ["b","g","m","r"], "range": ["#000080","#3cb43c","#c020c0","#9b1b1b"]}, "legend": null},
  "strokeDash": {"field": "k", "type": "nominal", "scale": {"domain": ["b","g","m","r"], "range": [[8,3,2,3],[4,4],[4,3],[8,3,2,3]]}, "legend": null}
 }},
{"data": {"name": "piv"}, "transform": [{"filter": "datum.g == 'S'"}], "mark": {"type": "line", "color": "#f4c4c4", "strokeWidth": 4, "clip": true},
 "encoding": {"x": {"field": "i", "type": "quantitative", "scale": {"domain": [0, 149.75], "nice": false, "zero": false}}, "y": {"field": "v", "type": "quantitative", "scale": {"domain": [1324.12, 1359.72], "nice": false, "zero": false}}, "detail": {"field": "s"}, "order": {"field": "o"}}},
{"data": {"name": "piv"}, "transform": [{"filter": "datum.g == 'S'"}], "mark": {"type": "line", "color": "#b01818", "strokeWidth": 2, "clip": true},
 "encoding": {"x": {"field": "i", "type": "quantitative", "scale": {"domain": [0, 149.75], "nice": false, "zero": false}}, "y": {"field": "v", "type": "quantitative", "scale": {"domain": [1324.12, 1359.72], "nice": false, "zero": false}}, "detail": {"field": "s"}, "order": {"field": "o"}}},
{"data": {"name": "piv"}, "transform": [{"filter": "datum.g == 'P'"}], "mark": {"type": "line", "color": "#f0b030", "strokeWidth": 2, "clip": true},
 "encoding": {"x": {"field": "i", "type": "quantitative", "scale": {"domain": [0, 149.75], "nice": false, "zero": false}}, "y": {"field": "v", "type": "quantitative", "scale": {"domain": [1324.12, 1359.72], "nice": false, "zero": false}}, "detail": {"field": "s"}, "order": {"field": "o"}}},
{"data": {"name": "piv"}, "transform": [{"filter": "datum.g == 'R'"}], "mark": {"type": "line", "color": "#44c044", "strokeWidth": 2, "clip": true},
 "encoding": {"x": {"field": "i", "type": "quantitative", "scale": {"domain": [0, 149.75], "nice": false, "zero": false}}, "y": {"field": "v", "type": "quantitative", "scale": {"domain": [1324.12, 1359.72], "nice": false, "zero": false}}, "detail": {"field": "s"}, "order": {"field": "o"}}},
{"data": {"name": "bands"}, "mark": {"type": "line", "color": "#3cae78", "strokeWidth": 1.5, "clip": true},
 "encoding": {"x": {"field": "i", "type": "quantitative", "scale": {"domain": [0, 149.75], "nice": false, "zero": false}}, "y": {"field": "v", "type": "quantitative", "scale": {"domain": [1324.12, 1359.72], "nice": false, "zero": false}}, "detail": {"field": "s"}}},
{"data": {"name": "slow"}, "mark": {"type": "line", "color": "#8b2525", "strokeWidth": 2, "clip": true},
 "encoding": {"x": {"field": "i", "type": "quantitative", "scale": {"domain": [0, 149.75], "nice": false, "zero": false}}, "y": {"field": "v", "type": "quantitative", "scale": {"domain": [1324.12, 1359.72], "nice": false, "zero": false}}}},
{"data": {"name": "bars"}, "mark": {"type": "rule", "color": "black", "strokeWidth": 1},
 "encoding": {"x": {"field": "i", "type": "quantitative", "scale": {"domain": [0, 149.75], "nice": false, "zero": false}}, "y": {"field": "l", "type": "quantitative", "scale": {"domain": [1324.12, 1359.72], "nice": false, "zero": false}}, "y2": {"field": "h"}}},
{"data": {"name": "bars"}, "mark": {"type": "bar", "width": 3, "stroke": "black", "strokeWidth": 0.8},
 "encoding": {"x": {"field": "i", "type": "quantitative", "scale": {"domain": [0, 149.75], "nice": false, "zero": false}}, "y": {"field": "o", "type": "quantitative", "scale": {"domain": [1324.12, 1359.72], "nice": false, "zero": false}}, "y2": {"field": "c"},
  "fill": {"condition": {"test": "datum.c >= datum.o", "value": "white"}, "value": "#1d4a1d"}}},
{"data": {"name": "bars"}, "mark": {"type": "line", "color": "#e00000", "strokeWidth": 1.3},
 "encoding": {"x": {"field": "i", "type": "quantitative", "scale": {"domain": [0, 149.75], "nice": false, "zero": false}}, "y": {"field": "m", "type": "quantitative", "scale": {"domain": [1324.12, 1359.72], "nice": false, "zero": false}}}},
{"data": {"name": "zz"}, "mark": {"type": "line", "color": "#ff0000", "strokeWidth": 3, "strokeCap": "round", "strokeJoin": "miter"},
 "encoding": {"x": {"field": "i", "type": "quantitative", "scale": {"domain": [0, 149.75], "nice": false, "zero": false}}, "y": {"field": "v", "type": "quantitative", "scale": {"domain": [1324.12, 1359.72], "nice": false, "zero": false}}, "detail": {"field": "seg"}, "order": {"field": "o"}}},
{"data": {"name": "hdr"}, "mark": {"type": "text", "align": "left", "baseline": "middle", "fontSize": 10, "font": "Liberation Sans", "color": "black"},
 "encoding": {"x": {"field": "i", "type": "quantitative", "scale": {"domain": [0, 149.75], "nice": false, "zero": false}}, "y": {"field": "v", "type": "quantitative", "scale": {"domain": [1324.12, 1359.72], "nice": false, "zero": false}}, "text": {"field": "t"}}},
{"data": {"name": "plab"}, "mark": {"type": "text", "align": "left", "baseline": "middle", "fontSize": 10, "font": "Liberation Sans", "color": "#e2b45c"},
 "encoding": {"x": {"datum": 141.5, "type": "quantitative"}, "y": {"field": "v", "type": "quantitative", "scale": {"domain": [1324.12, 1359.72], "nice": false, "zero": false}}, "text": {"field": "t"}}},
{"data": {"name": "tags"}, "transform": [{"filter": "datum.k == 'k'"}], "mark": {"type": "bar", "height": 13, "color": "black"},
 "encoding": {"x": {"datum": 150.05, "type": "quantitative"}, "x2": {"datum": 160}, "y": {"field": "p", "type": "quantitative", "scale": {"domain": [1324.12, 1359.72], "nice": false, "zero": false}}}},
{"data": {"name": "tags"}, "transform": [{"filter": "datum.k == 'k'"}], "mark": {"type": "text", "align": "left", "baseline": "middle", "fontSize": 9.5, "font": "Liberation Sans", "color": "white"},
 "encoding": {"x": {"datum": 150.4, "type": "quantitative"}, "y": {"field": "p", "type": "quantitative", "scale": {"domain": [1324.12, 1359.72], "nice": false, "zero": false}}, "text": {"field": "t"}}},
{"data": {"name": "tags"}, "transform": [{"filter": "datum.k != 'k'"}], "mark": {"type": "bar", "height": 13},
 "encoding": {"x": {"datum": 150.05, "type": "quantitative"}, "x2": {"datum": 160}, "y": {"field": "p", "type": "quantitative", "scale": {"domain": [1324.12, 1359.72], "nice": false, "zero": false}},
  "color": {"field": "k", "type": "nominal", "scale": {"domain": ["b","g","m","r"], "range": ["#0000cc","#36bb36","#dd44dd","#dd2222"]}, "legend": null}}},
{"data": {"name": "tags"}, "transform": [{"filter": "datum.k != 'k'"}], "mark": {"type": "text", "align": "left", "baseline": "middle", "fontSize": 9.5, "font": "Liberation Sans", "color": "white"},
 "encoding": {"x": {"datum": 150.4, "type": "quantitative"}, "y": {"field": "p", "type": "quantitative", "scale": {"domain": [1324.12, 1359.72], "nice": false, "zero": false}}, "text": {"field": "t"}}}
]
},
{
"width": 599, "height": 55,
"layer": [
{"data": {"name": "bars"}, "mark": {"type": "bar", "width": 2, "color": "#c0c0c0"},
 "encoding": {
  "x": {"field": "i", "type": "quantitative", "scale": {"domain": [0, 149.75], "nice": false, "zero": false},
        "axis": {"orient": "bottom", "values": [0,8,16,24,32,40,48,56,64,72,80,88,96,104,112,120,128,136,144], "title": null, "grid": true, "gridColor": "#c4c4c4", "gridDash": [3,3], "labels": false, "ticks": false, "domain": false}},
  "y": {"field": "mh", "type": "quantitative", "scale": {"domain": [-4.167, 13.334], "nice": false, "zero": false},
        "axis": {"orient": "right", "values": [-4.167, 0, 13.334], "labelExpr": "datum.value == 0 ? '0.00' : format(datum.value, '.3f')", "labelFlush": true, "title": null, "grid": true, "gridColor": "#c4c4c4", "gridDash": [3,3], "tickSize": 2, "tickColor": "black", "labelFontSize": 9.5, "labelFont": "Liberation Sans", "labelColor": "black", "labelPadding": 1, "labelOverlap": false, "domain": false}},
  "y2": {"datum": 0}
 }},
{"data": {"name": "bars"}, "mark": {"type": "line", "color": "#f4b4b4", "strokeWidth": 4},
 "encoding": {"x": {"field": "i", "type": "quantitative", "scale": {"domain": [0, 149.75], "nice": false, "zero": false}}, "y": {"field": "ms", "type": "quantitative", "scale": {"domain": [-4.167, 13.334], "nice": false, "zero": false}}}},
{"data": {"name": "bars"}, "mark": {"type": "line", "color": "#c81010", "strokeWidth": 2},
 "encoding": {"x": {"field": "i", "type": "quantitative", "scale": {"domain": [0, 149.75], "nice": false, "zero": false}}, "y": {"field": "ms", "type": "quantitative", "scale": {"domain": [-4.167, 13.334], "nice": false, "zero": false}}}},
{"data": {"values": [{"t": "MACD(5,35,5) 0.972 0.955"}]}, "mark": {"type": "text", "align": "left", "baseline": "middle", "fontSize": 10, "font": "Liberation Sans", "color": "black"},
 "encoding": {"x": {"datum": 0.75, "type": "quantitative"}, "y": {"datum": 10.5, "type": "quantitative"}, "text": {"field": "t"}}}
]
},
{
"width": 599, "height": 40,
"layer": [
{"data": {"name": "sts"}, "mark": {"type": "line", "color": "#e02020", "strokeWidth": 1, "strokeDash": [2,2]},
 "encoding": {
  "x": {"field": "i", "type": "quantitative", "scale": {"domain": [0, 149.75], "nice": false, "zero": false},
        "axis": {"orient": "bottom", "values": [0,8,16,24,32,40,48,56,64,72,80,88,96,104,112,120,128,136,144], "title": null, "grid": true, "gridColor": "#c4c4c4", "gridDash": [3,3], "domain": false, "tickSize": 3, "tickColor": "black",
                 "tickOpacity": {"condition": {"test": "datum.value % 16 == 0", "value": 1}, "value": 0},
                 "labelAlign": "left", "labelFontSize": 9.5, "labelFont": "Liberation Sans", "labelColor": "black", "labelPadding": 2, "labelOverlap": false, "labelFlush": false,
                 "labelExpr": "datum.value == 0 ? '3 Feb 2011' : datum.value == 16 ? '3 Feb 08:30' : datum.value == 32 ? '3 Feb 16:30' : datum.value == 48 ? '4 Feb 00:30' : datum.value == 64 ? '4 Feb 08:30' : datum.value == 80 ? '6 Feb 18:00' : datum.value == 96 ? '7 Feb 02:00' : datum.value == 112 ? '7 Feb 10:00' : datum.value == 128 ? '7 Feb 18:00' : ''"}},
  "y": {"field": "v", "type": "quantitative", "scale": {"domain": [0, 100], "nice": false, "zero": false},
        "axis": {"orient": "right", "values": [0, 20, 80, 100], "labelFlush": true, "title": null, "grid": true, "gridColor": "#c4c4c4", "gridDash": [3,3], "tickSize": 2, "tickColor": "black", "labelFontSize": 9.5, "labelFont": "Liberation Sans", "labelColor": "black", "labelPadding": 1, "labelOverlap": false, "domain": false}}
 }},
{"data": {"name": "stm"}, "mark": {"type": "line", "color": "#3a9e97", "strokeWidth": 2.5},
 "encoding": {"x": {"field": "i", "type": "quantitative", "scale": {"domain": [0, 149.75], "nice": false, "zero": false}}, "y": {"field": "v", "type": "quantitative", "scale": {"domain": [0, 100], "nice": false, "zero": false}}}},
{"data": {"values": [{"t": "Stoch(10,3,3) 79.3103 81.0606", "v": 75}, {"t": "BMF-Meta, © 2001-2010 MetaQuotes Software Corp.", "v": 25}]}, "mark": {"type": "text", "align": "left", "baseline": "middle", "fontSize": 10, "font": "Liberation Sans", "color": "black"},
 "encoding": {"x": {"datum": 0.75, "type": "quantitative"}, "y": {"field": "v", "type": "quantitative", "scale": {"domain": [0, 100], "nice": false, "zero": false}}, "text": {"field": "t"}}}
]
}
]
}
